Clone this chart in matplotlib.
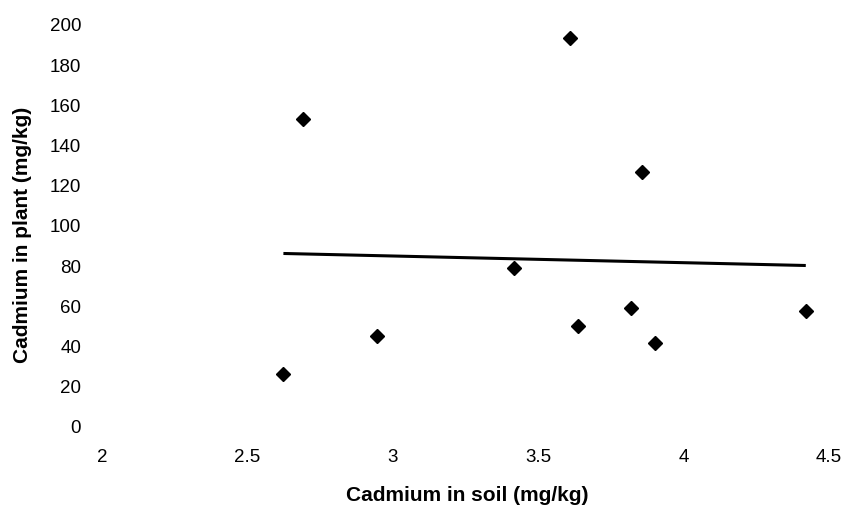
import matplotlib.pyplot as plt
import numpy as np

# Cadmium in soil vs cadmium in plant (mg/kg)
soil_cd = [2.624, 2.692, 2.945, 3.417, 3.610, 3.638, 3.820, 3.857, 3.902, 4.421]
plant_cd = [26.4, 153.4, 45.4, 79.1, 193.7, 50.4, 59.4, 127.0, 41.6, 57.9]

x_ticks = [2, 2.5, 3, 3.5, 4, 4.5]
x_tick_labels = ['2', '2.5', '3', '3.5', '4', '4.5']
y_ticks = [0, 20, 40, 60, 80, 100, 120, 140, 160, 180, 200]

plt.rcParams['font.family'] = ['Liberation Sans', 'DejaVu Sans']

fig = plt.figure(figsize=(8.48, 5.15), dpi=100)
ax = fig.add_axes([0.1203, 0.1709, 0.857, 0.7806])

# linear trend line
slope, intercept = np.polyfit(soil_cd, plant_cd, 1)
xs = np.array([min(soil_cd), max(soil_cd)])
ax.plot(xs, slope * xs + intercept, color='black', lw=2.2, solid_capstyle='butt')

ax.plot(soil_cd, plant_cd, linestyle='none', marker='D', ms=7, color='black')

ax.set_xlim(2, 4.5)
ax.set_ylim(0, 200)
ax.set_xticks(x_ticks)
ax.set_xticklabels(x_tick_labels)
ax.set_yticks(y_ticks)

for s in ax.spines.values():
    s.set_visible(False)
ax.tick_params(axis='both', length=0, labelsize=13.5)
ax.tick_params(axis='y', pad=15)
ax.tick_params(axis='x', pad=16)

fig.text(0.551, 0.037, 'Cadmium in soil (mg/kg)', ha='center', va='center',
         fontsize=15, fontweight='bold')
fig.text(0.027, 0.544, 'Cadmium in plant (mg/kg)', ha='center', va='center',
         fontsize=15, fontweight='bold', rotation=90)

plt.savefig('out.png', dpi=100)
